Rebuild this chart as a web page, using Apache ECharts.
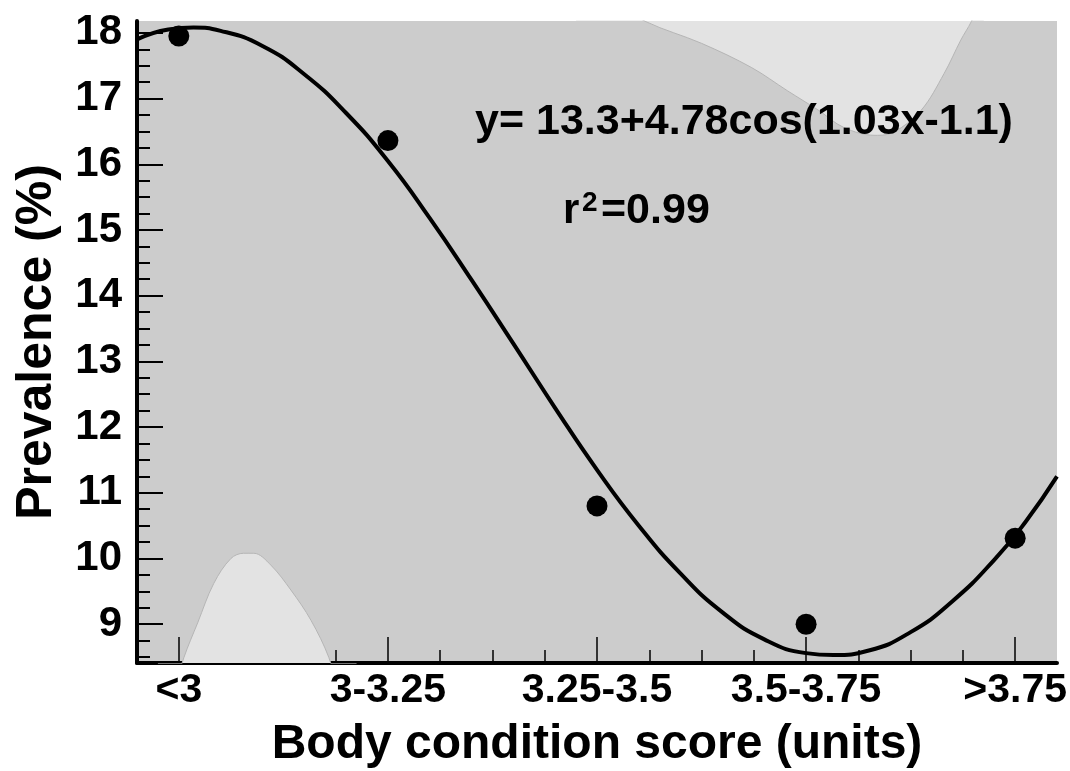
<!DOCTYPE html>
<html>
<head>
<meta charset="utf-8">
<script src="https://cdn.jsdelivr.net/npm/echarts@6/dist/echarts.min.js"></script>
<style>
  html, body { margin: 0; padding: 0; background: #fff; }
  #chart { width: 1070px; height: 771px; }
</style>
</head>
<body>
<div id="chart"></div>
<script>
// categories on the x axis, placed at 1..5
const categories = ['<3', '3-3.25', '3.25-3.5', '3.5-3.75', '>3.75']
const categoryPos = [1, 2, 3, 4, 5]
const prevalence = [17.95, 16.36, 10.8, 9.0, 10.31]

// fitted curve
const fitX = [0.8, 0.95, 1.07, 1.2, 1.4, 1.6, 1.8, 2.0, 2.2, 2.4, 2.6, 2.8, 3.0, 3.2, 3.4, 3.6, 3.8, 4.0, 4.13, 4.3, 4.5, 4.7, 4.9, 5.05, 5.2]
const fitY = [17.9, 18.05, 18.08, 18.03, 17.8, 17.37, 16.78, 16.05, 15.18, 14.24, 13.27, 12.29, 11.35, 10.5, 9.77, 9.18, 8.77, 8.56, 8.53, 8.6, 8.88, 9.35, 9.98, 10.56, 11.25]

// confidence band edges (only the parts that show inside the plot)
const upperX = [2.9, 3.1, 3.234, 3.5, 3.74, 3.91, 4.06, 4.18, 4.33, 4.42, 4.55, 4.66, 4.74, 4.79, 4.85]
const upperY = [18.9, 18.45, 18.17, 17.84, 17.47, 17.12, 16.82, 16.56, 16.44, 16.49, 16.82, 17.38, 17.89, 18.17, 18.6]
const lowerX = [0.9, 0.98, 1.024, 1.09, 1.167, 1.249, 1.31, 1.359, 1.44, 1.536, 1.632, 1.718, 1.76, 1.85]
const lowerY = [7.0, 8.0, 8.49, 9.02, 9.62, 10.0, 10.08, 10.08, 9.9, 9.52, 9.06, 8.49, 8.0, 7.0]

const yTicks = [9, 10, 11, 12, 13, 14, 15, 16, 17, 18]
const yMinorTicks = []
for (let v = 8.5; v <= 18; v += 0.25) if (v % 1 !== 0) yMinorTicks.push(v)
const xMinorTicks = []
for (let v = 1.25; v < 5; v += 0.25) if (v % 1 !== 0) xMinorTicks.push(v)

const FONT = '"Liberation Sans", Arial, sans-serif'
const zip = (xs, ys) => xs.map((x, i) => [x, ys[i]])

const X_MIN = 0.8, X_MAX = 5.2
const Y_MIN = 8.41, Y_MAX = 18.18

const boldText = (size) => ({ fontFamily: FONT, fontWeight: 'bold', fontSize: size, fill: '#000' })

const chart = echarts.init(document.getElementById('chart'))
chart.setOption({
  animation: false,
  backgroundColor: '#fff',
  grid: {
    left: 137, right: 13, top: 21, bottom: 108,
    show: true, backgroundColor: '#cccccc', borderWidth: 0,
    outerBoundsMode: 'none'
  },
  xAxis: [
    {
      type: 'value', min: X_MIN, max: X_MAX, position: 'bottom',
      name: 'Body condition score (units)',
      nameLocation: 'middle', nameGap: 58,
      nameTextStyle: { fontFamily: FONT, fontWeight: 'bold', fontSize: 48, color: '#000' },
      axisLine: { lineStyle: { color: '#000', width: 4 } },
      axisTick: { inside: true, length: 26, customValues: categoryPos, lineStyle: { color: '#000', width: 1.5 } },
      axisLabel: {
        customValues: categoryPos, margin: 7,
        fontFamily: FONT, fontWeight: 'bold', fontSize: 41, color: '#000',
        formatter: (v) => categories[categoryPos.indexOf(Math.round(v))]
      },
      splitLine: { show: false }
    },
    {
      type: 'value', min: X_MIN, max: X_MAX, position: 'bottom',
      axisLine: { show: false },
      axisTick: { inside: true, length: 13, customValues: xMinorTicks, lineStyle: { color: '#000', width: 1.5 } },
      axisLabel: { show: false },
      splitLine: { show: false }
    }
  ],
  yAxis: [
    {
      type: 'value', min: Y_MIN, max: Y_MAX, position: 'left',
      name: 'Prevalence (%)',
      nameLocation: 'middle', nameGap: 75,
      nameTextStyle: { fontFamily: FONT, fontWeight: 'bold', fontSize: 50, color: '#000' },
      axisLine: { show: true, lineStyle: { color: '#000', width: 4 } },
      axisTick: { show: true, inside: true, length: 26, customValues: yTicks, lineStyle: { color: '#000', width: 2 } },
      axisLabel: {
        customValues: yTicks, margin: 15,
        fontFamily: FONT, fontWeight: 'bold', fontSize: 42, color: '#000'
      },
      splitLine: { show: false }
    },
    {
      type: 'value', min: Y_MIN, max: Y_MAX, position: 'left',
      axisLine: { show: false },
      axisTick: { show: true, inside: true, length: 13, customValues: yMinorTicks, lineStyle: { color: '#000', width: 2 } },
      axisLabel: { show: false },
      splitLine: { show: false }
    }
  ],
  series: [
    {
      name: 'upper', type: 'line', data: zip(upperX, upperY),
      smooth: 0.35, symbol: 'none', silent: true, z: 1,
      lineStyle: { color: '#b5b5b5', width: 1 },
      areaStyle: { color: '#e3e3e3', opacity: 1, origin: 'end' }
    },
    {
      name: 'lower', type: 'line', data: zip(lowerX, lowerY),
      smooth: 0.35, symbol: 'none', silent: true, z: 1,
      lineStyle: { color: '#b5b5b5', width: 1 },
      areaStyle: { color: '#e3e3e3', opacity: 1, origin: 'start' }
    },
    {
      name: 'fit', type: 'line', data: zip(fitX, fitY),
      smooth: 0.5, symbol: 'none', z: 3,
      lineStyle: { color: '#000', width: 4 }
    },
    {
      name: 'prevalence', type: 'scatter', data: zip(categoryPos, prevalence),
      symbol: 'circle', symbolSize: 21, z: 4,
      itemStyle: { color: '#000', opacity: 1 }
    }
  ],
  graphic: [
    { type: 'text', left: 475, top: 101, z: 10, style: { text: 'y= 13.3+4.78cos(1.03x-1.1)', ...boldText(43) } },
    { type: 'text', left: 563, top: 190, z: 10, style: { text: 'r', ...boldText(42) } },
    { type: 'text', left: 582, top: 189, z: 10, style: { text: '2', ...boldText(28) } },
    { type: 'text', left: 601, top: 190, z: 10, style: { text: '=0.99', ...boldText(43) } }
  ]
})
</script>
</body>
</html>
